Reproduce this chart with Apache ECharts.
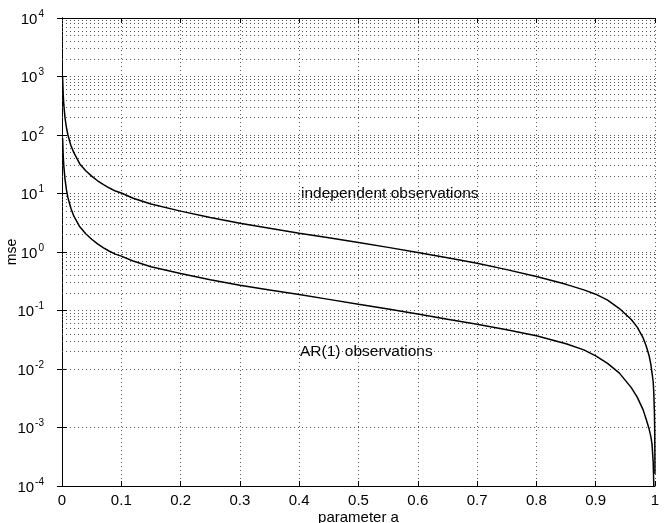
<!DOCTYPE html>
<html>
<head>
<meta charset="utf-8">
<script src="https://cdn.jsdelivr.net/npm/echarts@6/dist/echarts.min.js"></script>
<style>html,body{margin:0;padding:0;background:#fff}#c{width:668px;height:523px}</style>
</head>
<body>
<div id="c"></div>
<script>
// parameter a (x values)
var aValues = [0.001,0.002,0.003,0.005,0.0075,0.01,0.015,0.02,0.03,0.04,0.05,0.06,0.07,0.08,0.09,0.1,0.12,0.15,0.2,0.25,0.3,0.35,0.4,0.45,0.5,0.55,0.6,0.65,0.7,0.75,0.8,0.85,0.88,0.9,0.92,0.94,0.96,0.97,0.98,0.985,0.99,0.993,0.995,0.997,0.998,0.999,0.9995,0.9998,0.9999];
// mse, independent observations
var mseIndependent = [1000,500,333,200,133,100,66,50,32,24.5,19.8,16.5,14.2,12.4,11.0,10.2,8.3,6.6,5.0,3.9,3.1,2.55,2.1,1.75,1.45,1.2,0.98,0.8,0.64,0.5,0.38,0.28,0.225,0.19,0.15,0.108,0.07,0.052,0.034,0.025,0.017,0.012,0.0085,0.006,0.0038,0.0018,0.0009,0.00036,0.00016];
// mse, AR(1) observations
var mseAR1 = [90,45,30,18,11.5,8.5,5.6,4.1,2.7,2.05,1.65,1.38,1.18,1.03,0.92,0.85,0.70,0.56,0.43,0.335,0.27,0.225,0.187,0.155,0.128,0.106,0.087,0.071,0.058,0.047,0.037,0.027,0.0212,0.0168,0.0125,0.0085,0.0048,0.0033,0.0020,0.0014,0.00095,0.0007,0.00052,0.00025,0.0001,0.00004,0.00002,0.00001,0.000005];
// y axis decades and minor grid values
var yDecades = [-4,-3,-2,-1,0,1,2,3,4];
var minorMultipliers = [2,3,4,5,6,7,8,9];
var curveLabels = ['independent observations', 'AR(1) observations'];

var minorLines = [];
for (var d = -4; d < 4; d++) {
  for (var m = 0; m < minorMultipliers.length; m++) {
    minorLines.push({ yAxis: minorMultipliers[m] * Math.pow(10, d) });
  }
}
function pairs(ys) { return aValues.map(function (a, i) { return [a, ys[i]]; }); }

var font = 'Liberation Sans, Arial, Helvetica, sans-serif';
var chart = echarts.init(document.getElementById('c'), null, { renderer: 'canvas' });
var dotted = { color: '#555', width: 1, type: [1, 3] };
chart.setOption({
  animation: false,
  backgroundColor: '#fff',
  grid: { left: 62, right: 13, top: 18, bottom: 37, containLabel: false, outerBoundsMode: 'none' },
  xAxis: [{
    type: 'value', min: 0, max: 1, interval: 0.1,
    name: 'parameter a', nameLocation: 'middle', nameGap: 24, nameMoveOverlap: false,
    nameTextStyle: { fontFamily: font, fontSize: 15, color: '#000', verticalAlign: 'top' },
    axisLine: { lineStyle: { color: '#000', width: 1 } },
    axisTick: { inside: true, length: 5, lineStyle: { color: '#000' } },
    axisLabel: { fontFamily: font, fontSize: 15, color: '#000', margin: 7 },
    splitLine: { show: true, lineStyle: dotted }
  }, {
    type: 'value', min: 0, max: 1, interval: 0.1, position: 'top',
    axisLine: { lineStyle: { color: '#000', width: 1 } },
    axisTick: { inside: true, length: 5, lineStyle: { color: '#000' } },
    axisLabel: { show: false }, splitLine: { show: false }
  }],
  yAxis: [{
    type: 'log', logBase: 10, min: 1e-4, max: 1e4,
    name: 'mse', nameLocation: 'middle', nameGap: 50, nameRotate: 90, nameMoveOverlap: false,
    nameTextStyle: { fontFamily: font, fontSize: 14, color: '#000', verticalAlign: 'middle' },
    axisLine: { show: true, lineStyle: { color: '#000', width: 1 } },
    axisTick: { show: true, inside: true, length: 5, lineStyle: { color: '#000' } },
    axisLabel: {
      margin: 18,
      formatter: function (v) {
        var e = Math.round(Math.log10(v));
        return '{b|10}{s|' + e + '}';
      },
      rich: {
        b: { fontFamily: font, fontSize: 15, color: '#000', verticalAlign: 'bottom', lineHeight: 18 },
        s: { fontFamily: font, fontSize: 10, color: '#000', verticalAlign: 'top', padding: [0, 0, 12, 1], lineHeight: 18 }
      }
    },
    splitLine: { show: true, lineStyle: dotted }
  }, {
    type: 'log', logBase: 10, min: 1e-4, max: 1e4, position: 'right',
    axisLine: { show: true, lineStyle: { color: '#000', width: 1 } },
    axisTick: { show: true, inside: true, length: 5, lineStyle: { color: '#000' } },
    axisLabel: { show: false }, splitLine: { show: false }
  }],
  series: [{
    type: 'line', name: curveLabels[0], data: pairs(mseIndependent),
    showSymbol: false, smooth: false, clip: true,
    lineStyle: { color: '#000', width: 1.5 },
    markLine: {
      silent: true, symbol: 'none', label: { show: false },
      lineStyle: dotted, data: minorLines, animation: false
    },
    z: 5
  }, {
    type: 'line', name: curveLabels[1], data: pairs(mseAR1),
    showSymbol: false, smooth: false, clip: true,
    lineStyle: { color: '#000', width: 1.5 },
    z: 5
  }],
  graphic: [{
    type: 'text', left: 301, top: 186,
    style: { text: curveLabels[0], font: '15.5px ' + font, fill: '#000' }
  }, {
    type: 'text', left: 300, top: 344,
    style: { text: curveLabels[1], font: '15.5px ' + font, fill: '#000' }
  }]
});
</script>
</body>
</html>
